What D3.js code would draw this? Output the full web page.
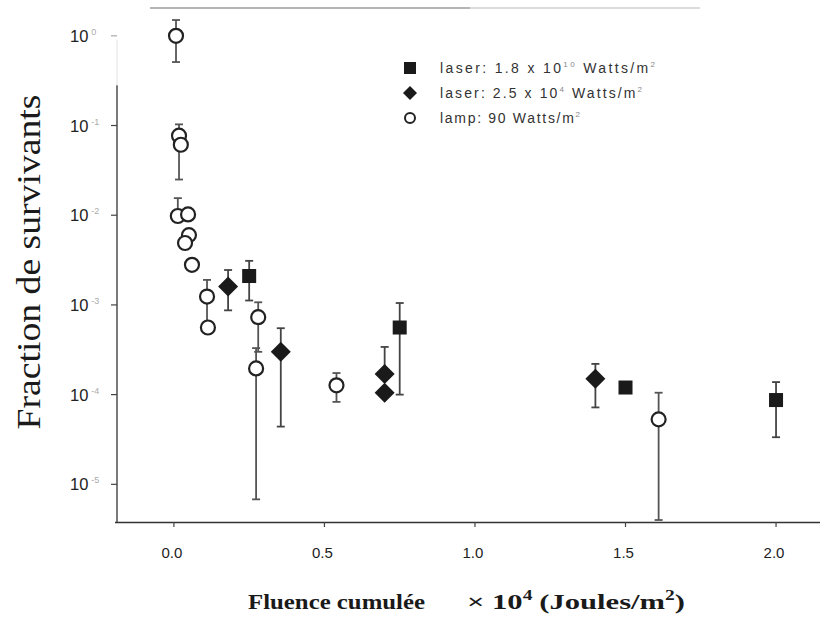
<!DOCTYPE html>
<html><head><meta charset="utf-8">
<script src="https://cdn.jsdelivr.net/npm/d3@7"></script>
<style>body{margin:0;background:#fff}svg{display:block}</style>
</head><body>
<svg id="c" width="825" height="619"></svg>
<script>
// ---- data ----
const yTickExps = [0, -1, -2, -3, -4, -5];
const xTicks = [0.0, 0.5, 1.0, 1.5, 2.0];
const xTickLabels = ["0.0", "0.5", "1.0", "1.5", "2.0"];

const lampX  = [0.007, 0.017, 0.023, 0.013, 0.047, 0.050, 0.037, 0.060, 0.110, 0.113, 0.280, 0.273, 0.540, 1.610];
const lampY  = [1.0, 0.077, 0.061, 0.0098, 0.0102, 0.0060, 0.0049, 0.0028, 0.00124, 0.00056, 0.00073, 0.000196, 0.000127, 0.000053];
const lampLo = [0.51, 0.025, null, null, null, null, null, null, 0.0006, null, 0.0003, 0.0000068, 0.000083, 0.000004];
const lampHi = [1.5, 0.103, null, 0.0155, null, null, null, null, 0.0019, null, 0.00107, 0.00033, 0.000174, 0.000105];

const diaX  = [0.18, 0.355, 0.70, 0.70, 1.40];
const diaY  = [0.0016, 0.0003, 0.00017, 0.000105, 0.00015];
const diaLo = [0.00087, 0.000044, null, null, 0.000072];
const diaHi = [0.00245, 0.00055, 0.00034, null, 0.00022];

const sqX  = [0.25, 0.75, 1.50, 2.0];
const sqY  = [0.0021, 0.00056, 0.00012, 0.000087];
const sqLo = [0.00112, 0.0001, null, 0.0000335];
const sqHi = [0.0031, 0.00105, null, 0.000138];

const legendLabels = [
  ["laser: 1.8 x 10", "10", " Watts/m", "2"],
  ["laser: 2.5 x 10", "4", " Watts/m", "2"],
  ["lamp: 90 Watts/m", "2", "", ""]
];

// ---- scales ----
const svg = d3.select("#c");
const x = d3.scaleLinear().domain([-0.189, 2.146]).range([117, 820]);
const y = d3.scaleLog().domain([Math.pow(10, 0.31), Math.pow(10, -5.42)]).range([8, 522]);

// top faint border
svg.append("line").attr("x1", 150).attr("x2", 470).attr("y1", 8).attr("y2", 8)
  .attr("stroke", "#b5b5b5").attr("stroke-width", 2);
svg.append("line").attr("x1", 470).attr("x2", 700).attr("y1", 8).attr("y2", 8)
  .attr("stroke", "#cfcfcf").attr("stroke-width", 1.5);

// y axis line
svg.append("line").attr("x1", 117).attr("x2", 117).attr("y1", y(Math.pow(10, -0.55))).attr("y2", 522)
  .attr("stroke", "#333").attr("stroke-width", 1.3);
svg.append("line").attr("x1", 117).attr("x2", 117).attr("y1", 40).attr("y2", y(Math.pow(10, -0.55)))
  .attr("stroke", "#e2e2e2").attr("stroke-width", 1);
// x axis line
svg.append("line").attr("x1", 115).attr("x2", 820).attr("y1", 522.5).attr("y2", 522.5)
  .attr("stroke", "#333").attr("stroke-width", 1.3);

// y ticks
const yt = svg.append("g");
yTickExps.forEach(e => {
  const py = y(Math.pow(10, e));
  yt.append("line").attr("x1", 111).attr("x2", 117).attr("y1", py).attr("y2", py)
    .attr("stroke", e === 0 ? "#aaa" : "#444").attr("stroke-width", 1.2);
  const t = yt.append("text").attr("x", 70).attr("y", py + 6)
    .attr("font-family", "Liberation Sans, Arial, sans-serif").attr("font-size", 16.5).attr("fill", "#222");
  t.append("tspan").text("10");
  t.append("tspan").attr("dx", 3).attr("dy", -7).attr("font-size", 9).attr("fill", "#aaa").text(String(e));
});

// x ticks
const xt = svg.append("g");
xTicks.forEach((v, i) => {
  const px = x(v);
  xt.append("line").attr("x1", px).attr("x2", px).attr("y1", 522).attr("y2", 527)
    .attr("stroke", "#444").attr("stroke-width", 1.2);
  xt.append("text").attr("x", px - 2).attr("y", 558).attr("text-anchor", "middle")
    .attr("font-family", "Liberation Sans, Arial, sans-serif").attr("font-size", 15).attr("fill", "#222")
    .text(xTickLabels[i]);
});

// axis titles
svg.append("text").attr("transform", "translate(40,262) rotate(-90)").attr("text-anchor", "middle")
  .attr("font-family", "Liberation Serif, Times New Roman, serif").attr("font-size", 33).attr("fill", "#1a1a1a")
  .attr("textLength", 335).attr("lengthAdjust", "spacingAndGlyphs")
  .text("Fraction de survivants");
svg.append("text").attr("x", 248).attr("y", 609)
  .attr("font-family", "Liberation Serif, Times New Roman, serif").attr("font-size", 22).attr("font-weight", "bold").attr("fill", "#1a1a1a")
  .attr("textLength", 177).attr("lengthAdjust", "spacingAndGlyphs").text("Fluence cumulée");
const xtitle = svg.append("text").attr("x", 467).attr("y", 609)
  .attr("font-family", "Liberation Serif, Times New Roman, serif").attr("font-size", 22).attr("font-weight", "bold").attr("fill", "#1a1a1a")
  .attr("textLength", 218).attr("lengthAdjust", "spacingAndGlyphs");
xtitle.append("tspan").text("× 10");
xtitle.append("tspan").attr("dy", -9).attr("font-size", 14).text("4");
xtitle.append("tspan").attr("dy", 9).attr("dx", 5).text("(Joules/m");
xtitle.append("tspan").attr("dy", -9).attr("font-size", 14).text("2");
xtitle.append("tspan").attr("dy", 9).text(")");

// error bars
function errBars(xs, ys, lo, hi, color) {
  const g = svg.append("g").attr("stroke", color).attr("stroke-width", 1.8);
  xs.forEach((v, i) => {
    const px = x(v);
    if (hi[i] != null) {
      g.append("line").attr("x1", px).attr("x2", px).attr("y1", y(ys[i])).attr("y2", y(hi[i]));
      g.append("line").attr("x1", px - 4).attr("x2", px + 4).attr("y1", y(hi[i])).attr("y2", y(hi[i]));
    }
    if (lo[i] != null) {
      g.append("line").attr("x1", px).attr("x2", px).attr("y1", y(ys[i])).attr("y2", y(lo[i]));
      g.append("line").attr("x1", px - 4).attr("x2", px + 4).attr("y1", y(lo[i])).attr("y2", y(lo[i]));
    }
  });
}
errBars(lampX, lampY, lampLo, lampHi, "#555");
errBars(diaX, diaY, diaLo, diaHi, "#444");
errBars(sqX, sqY, sqLo, sqHi, "#444");

// markers
svg.append("g").selectAll("circle").data(lampX).join("circle")
  .attr("cx", d => x(d)).attr("cy", (d, i) => y(lampY[i])).attr("r", 7)
  .attr("fill", "#fff").attr("stroke", "#222").attr("stroke-width", 2.2);
svg.append("g").selectAll("path").data(diaX).join("path")
  .attr("transform", (d, i) => `translate(${x(d)},${y(diaY[i])})`)
  .attr("d", "M0,-10L10,0L0,10L-10,0Z").attr("fill", "#1a1a1a");
svg.append("g").selectAll("rect").data(sqX).join("rect")
  .attr("x", d => x(d) - 7).attr("y", (d, i) => y(sqY[i]) - 7).attr("width", 14).attr("height", 14)
  .attr("fill", "#1a1a1a");

// legend
const lg = svg.append("g");
const ly = [68, 93, 118];
lg.append("rect").attr("x", 404).attr("y", ly[0] - 6).attr("width", 12).attr("height", 12).attr("fill", "#1a1a1a");
lg.append("path").attr("transform", `translate(410,${ly[1]})`).attr("d", "M0,-7L7,0L0,7L-7,0Z").attr("fill", "#1a1a1a");
lg.append("circle").attr("cx", 410).attr("cy", ly[2]).attr("r", 5).attr("fill", "#fff").attr("stroke", "#222").attr("stroke-width", 2);
const legendWidths = [215, 202, 140];
legendLabels.forEach((L, i) => {
  const t = lg.append("text").attr("x", 440).attr("y", ly[i] + 5)
    .attr("font-family", "Liberation Sans, Arial, sans-serif").attr("font-size", 14).attr("fill", "#333")
    .attr("textLength", legendWidths[i]).attr("lengthAdjust", "spacing");
  t.append("tspan").text(L[0]);
  t.append("tspan").attr("dy", -6).attr("font-size", 8).attr("fill", "#888").text(L[1]);
  if (L[2]) {
    t.append("tspan").attr("dy", 6).text(L[2]);
    t.append("tspan").attr("dy", -6).attr("font-size", 8).attr("fill", "#888").text(L[3]);
  }
});
</script>
</body></html>
